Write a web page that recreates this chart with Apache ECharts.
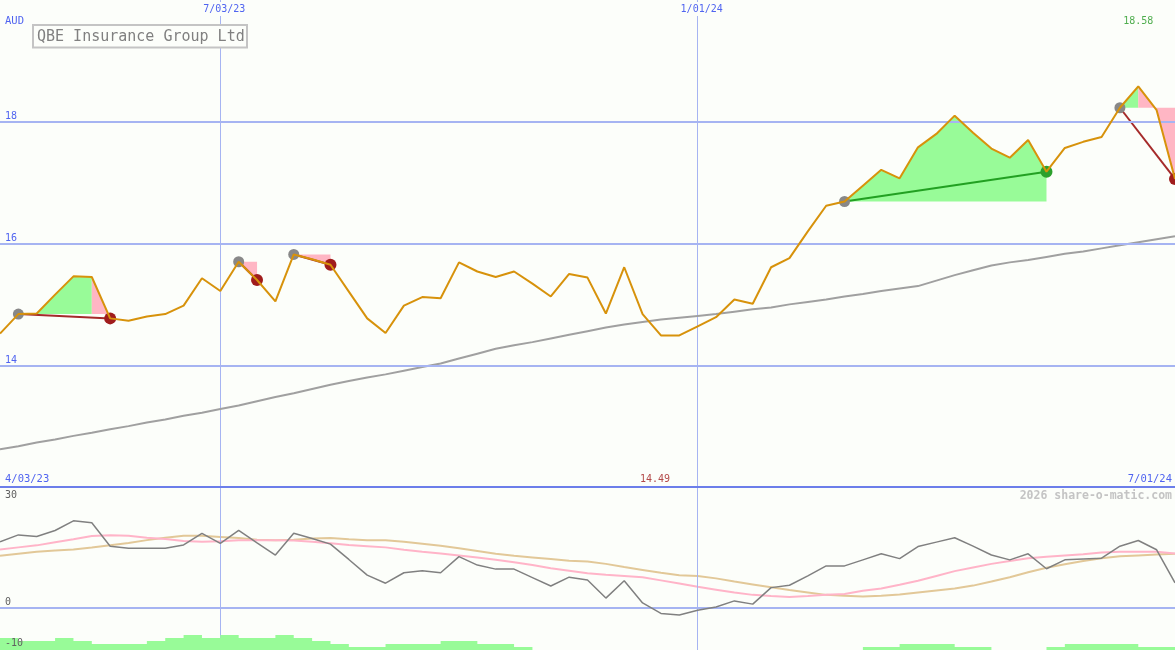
<!DOCTYPE html>
<html><head><meta charset="utf-8">
<script src="https://cdn.jsdelivr.net/npm/echarts@6/dist/echarts.min.js"></script>
<style>html,body{margin:0;padding:0;background:#fcfefa;}#c{width:1175px;height:650px;}</style>
</head><body><div id="c"></div><script>
// ---- data ----
const title = 'QBE Insurance Group Ltd';
const dates = ['4/10/23','4/17/23','4/24/23','5/01/23','5/08/23','5/15/23','5/22/23','5/29/23','6/05/23','6/12/23','6/19/23','6/26/23','7/03/23','7/10/23','7/17/23','7/24/23','7/31/23','8/07/23','8/14/23','8/21/23','8/28/23','9/04/23','9/11/23','9/18/23','9/25/23','10/02/23','10/09/23','10/16/23','10/23/23','10/30/23','11/06/23','11/13/23','11/20/23','11/27/23','12/04/23','12/11/23','12/18/23','12/25/23','1/01/24','1/08/24','1/15/24','1/22/24','1/29/24','2/05/24','2/12/24','2/19/24','2/26/24','3/04/24','3/11/24','3/18/24','3/25/24','4/01/24','4/08/24','4/15/24','4/22/24','4/29/24','5/06/24','5/13/24','5/20/24','5/27/24','6/03/24','6/10/24','6/17/24','6/24/24','7/01/24'];
const gridTicks = [12, 38];
const priceLevels = [14, 16, 18];
const oscLevels = [0];
const startLabel = '4/03/23';
const endLabel = '7/01/24';
const price = [14.52,14.84,14.85,15.16,15.46,15.45,14.77,14.73,14.80,14.84,
  14.98,15.43,15.22,15.70,15.40,15.05,15.82,15.74,15.65,15.21,
  14.77,14.53,14.98,15.12,15.10,15.69,15.54,15.45,15.54,15.34,
  15.13,15.50,15.44,14.85,15.61,14.84,14.49,14.49,14.64,14.79,
  15.08,15.01,15.61,15.76,16.20,16.62,16.69,16.95,17.21,17.07,
  17.58,17.80,18.10,17.82,17.56,17.41,17.70,17.18,17.57,17.67,
  17.75,18.23,18.58,18.19,17.06];
const ma = [12.62,12.67,12.73,12.78,12.84,12.89,12.95,13.00,13.06,13.11,
  13.17,13.22,13.28,13.34,13.41,13.48,13.54,13.61,13.68,13.74,
  13.80,13.85,13.91,13.97,14.03,14.11,14.19,14.27,14.33,14.38,
  14.44,14.50,14.56,14.62,14.67,14.71,14.75,14.78,14.81,14.84,
  14.88,14.92,14.95,15.00,15.04,15.08,15.13,15.17,15.22,15.26,
  15.30,15.39,15.48,15.56,15.64,15.69,15.73,15.78,15.83,15.87,
  15.92,15.97,16.02,16.07,16.12];
const osc = [16.4,18.1,17.7,19.2,21.6,21.1,15.3,14.8,14.8,14.8,
  15.6,18.5,16.0,19.2,16.1,13.1,18.5,17.2,15.8,12.0,
  8.1,6.1,8.7,9.2,8.7,12.7,10.6,9.6,9.6,7.5,
  5.4,7.6,6.9,2.4,6.7,1.2,-1.4,-1.8,-0.6,0.2,
  1.7,0.9,5.0,5.6,7.9,10.4,10.4,11.9,13.4,12.2,
  15.2,16.3,17.4,15.3,13.1,11.9,13.4,9.7,11.9,12.1,
  12.3,15.3,16.7,14.4,6.2];
const oscFast = [14.5,15.0,15.5,16.3,17.0,17.8,18.0,17.9,17.4,17.1,
  16.6,16.4,16.5,16.8,16.8,16.8,16.7,16.4,16.0,15.6,
  15.3,15.0,14.4,13.9,13.5,13.0,12.5,11.9,11.3,10.6,
  9.8,9.2,8.6,8.2,7.9,7.6,6.8,6.0,5.2,4.5,
  3.8,3.2,2.9,2.7,2.9,3.2,3.4,4.2,4.8,5.7,
  6.7,7.9,9.1,10.0,10.9,11.6,12.3,12.7,13.0,13.3,
  13.7,13.9,13.9,13.9,13.5];
const oscSlow = [12.9,13.4,13.9,14.2,14.5,14.95,15.5,16.1,16.8,17.4,
  17.9,17.9,17.6,17.3,16.9,16.8,16.9,17.2,17.3,17.0,
  16.8,16.8,16.4,15.9,15.4,14.8,14.1,13.4,12.9,12.5,
  12.1,11.7,11.5,10.9,10.1,9.4,8.7,8.1,7.9,7.3,
  6.5,5.8,5.1,4.4,3.8,3.2,3.0,2.8,3.0,3.3,
  3.8,4.3,4.8,5.5,6.5,7.6,8.8,9.95,10.8,11.6,
  12.3,12.8,13.0,13.2,13.4];
const bars = [4,3,3,4,3,2,2,2,3,4,
  5,4,5,4,4,5,4,3,2,1,
  1,2,2,2,3,3,2,2,1,0,
  0,0,0,0,0,0,0,0,0,0,
  0,0,0,0,0,0,0,1,1,2,
  2,2,1,1,0,0,0,1,2,2,
  2,2,1,1,1];
const tradeEntry = [1,13,16,46,61];
const tradeExit  = [6,14,18,57,64];
const tradeWin   = [0,0,0,1,0];
const fillStart = [1,5,13,16,46,61,62];
const fillEnd   = [5,6,14,18,57,62,64];
const fillTrade = [0,0,1,2,3,4,4];
const fillKind  = ['g','p','p','p','g','g','p'];

// ---- style ----
const MONO = "'DejaVu Sans Mono', monospace";
const BG = '#fcfefa';
const GRIDC = '#a6b4f2';
const BLUE = '#5064f0';
const GREENF = '#98fb98', PINKF = '#ffb6c4';
const tickSet = new Set(gridTicks);
const isTick = (i) => tickSet.has(i);
const minIdx = price.indexOf(Math.min(...price));
const maxIdx = price.indexOf(Math.max(...price));

const chart = echarts.init(document.getElementById('c'), null, {renderer:'canvas'});
const splitV = {show:true, interval:(i)=>isTick(i), lineStyle:{color:GRIDC, width:1}};
const hLines = (levels) => ({silent:true, symbol:'none', label:{show:false},
  lineStyle:{color:GRIDC, width:2, type:'solid'}, emphasis:{disabled:true},
  data: levels.map(v=>({yAxis:v}))});

const option = {
  backgroundColor: BG,
  animation: false,
  grid: [
    {left:0, right:0, top:-1, height:488},
    {left:0, right:0, top:487, height:161},
    {left:0, right:0, top:635, height:15}
  ],
  xAxis: [
    {gridIndex:0, type:'category', data:dates, boundaryGap:false, position:'top',
     axisLine:{show:false}, axisTick:{show:false}, splitLine:splitV,
     axisLabel:{inside:true, interval:(i)=>isTick(i), margin:2, color:BLUE, fontSize:10, fontFamily:MONO,
       backgroundColor:BG, padding:[2,2,2,10]}},
    {gridIndex:1, type:'category', data:dates, boundaryGap:false, position:'top',
     axisLine:{show:true, onZero:false, lineStyle:{color:'#6c7eea', width:2}}, axisTick:{show:false},
     axisLabel:{show:false}, splitLine:splitV, z:5},
    {gridIndex:2, type:'category', data:dates, boundaryGap:false,
     axisLine:{show:false, onZero:false}, axisTick:{show:false}, axisLabel:{show:false}, splitLine:splitV}
  ],
  yAxis: [
    {gridIndex:0, type:'value', min:12, max:20, interval:2,
     axisLine:{show:false}, axisTick:{show:false}, splitLine:{show:false},
     axisLabel:{inside:true, margin:5, verticalAlign:'bottom', color:BLUE, fontSize:10, fontFamily:MONO,
       showMinLabel:false, showMaxLabel:false}},
    {gridIndex:1, type:'value', position:'left', min:-10, max:30, interval:10, z:10,
     axisLine:{show:false}, axisTick:{show:false}, splitLine:{show:false},
     axisLabel:{inside:true, margin:5, verticalAlign:'bottom', color:'#606060', fontSize:10, fontFamily:MONO,
       showMaxLabel:false, formatter:(v)=> (v===0 || v===-10) ? String(v) : ''}},
    {gridIndex:1, type:'value', position:'left', offset:0, min:-10, max:30, interval:10, z:10,
     axisLine:{show:false}, axisTick:{show:false}, splitLine:{show:false},
     axisLabel:{inside:true, margin:5, verticalAlign:'top', padding:[3,0,0,0], color:'#606060', fontSize:10, fontFamily:MONO,
       showMaxLabel:true, formatter:(v)=> v===30 ? '30' : ''}},
    {gridIndex:2, type:'value', min:0, max:5, show:false}
  ],
  graphic: [
    {type:'rect', shape:{x:33, y:25, width:214, height:22.5}, style:{fill:BG, stroke:'#c4c4c4', lineWidth:2}, z:100},
    {type:'text', x:37, y:37, z:101, style:{text:title, font:'15px '+MONO, fill:'#808080', verticalAlign:'middle'}},
    {type:'text', x:5, y:21, z:101, style:{text:'AUD', font:'10.5px '+MONO, fill:BLUE, verticalAlign:'middle'}},
    {type:'text', x:5, y:479, z:101, style:{text:startLabel, font:'10.5px '+MONO, fill:BLUE, verticalAlign:'middle'}},
    {type:'text', x:1172, y:479, z:101, style:{text:endLabel, font:'10.5px '+MONO, fill:BLUE, align:'right', verticalAlign:'middle'}},
    {type:'text', x:1172, y:496, z:101, style:{text:'2026 share-o-matic.com', font:'bold 11.5px '+MONO, fill:'#c4c4c4', align:'right', verticalAlign:'middle'}}
  ],
  series: [
    {type:'line', xAxisIndex:0, yAxisIndex:0, z:1, data:[], silent:true, markLine:hLines(priceLevels)},
    {type:'custom', xAxisIndex:0, yAxisIndex:0, z:2, silent:true,
     data: fillStart.map((s,k)=>[s, price[s], k]),
     renderItem:(params, api)=>{
       const k = params.dataIndex;
       const s = fillStart[k], e = fillEnd[k];
       const lvl = price[tradeEntry[fillTrade[k]]];
       const pts = [api.coord([s, lvl])];
       for (let j=s; j<=e; j++) pts.push(api.coord([j, price[j]]));
       pts.push(api.coord([e, lvl]));
       return {type:'polygon', shape:{points:pts}, style:{fill: fillKind[k]==='g' ? GREENF : PINKF}};
     }},
    {type:'line', xAxisIndex:0, yAxisIndex:0, z:3, data:ma, symbol:'none', silent:true,
     lineStyle:{color:'#a0a0a0', width:2}},
    ...tradeEntry.map((en,k)=>({type:'line', xAxisIndex:0, yAxisIndex:0, z:4, symbol:'none', silent:true,
      data:[[en, price[en]], [tradeExit[k], price[tradeExit[k]]]],
      lineStyle:{color: tradeWin[k] ? '#22a022' : '#a52a2a', width:2}})),
    {type:'scatter', xAxisIndex:0, yAxisIndex:0, z:5, symbolSize:11, silent:true,
     data: tradeEntry.map(i=>[i, price[i]]), itemStyle:{color:'#888888', opacity:1}},
    {type:'scatter', xAxisIndex:0, yAxisIndex:0, z:5, symbolSize:12, silent:true,
     data: tradeExit.map((i,k)=>({value:[i, price[i]], itemStyle:{color: tradeWin[k] ? '#2ca02c' : '#a01c1c', opacity:1}}))},
    {type:'line', xAxisIndex:0, yAxisIndex:0, z:6, data:price, symbol:'none', silent:true,
     lineStyle:{color:'#d7920b', width:2}},
    {type:'scatter', xAxisIndex:0, yAxisIndex:0, z:7, symbolSize:0, silent:true,
     label:{show:true, position:'inside', fontSize:10, fontFamily:MONO, formatter:(p)=>price[p.value[0]].toFixed(2)},
     data:[
       {value:[minIdx, 12.13], label:{color:'#a01c1c', offset:[-6,0]}},
       {value:[maxIdx, 19.65], label:{color:'#229922'}}
     ]},
    {type:'line', xAxisIndex:1, yAxisIndex:1, z:1, data:[], silent:true, markLine:hLines(oscLevels)},
    {type:'line', xAxisIndex:1, yAxisIndex:1, z:3, data:oscSlow, symbol:'none', silent:true,
     lineStyle:{color:'#e2c898', width:2}},
    {type:'line', xAxisIndex:1, yAxisIndex:1, z:4, data:oscFast, symbol:'none', silent:true,
     lineStyle:{color:'#ffb4c8', width:2}},
    {type:'line', xAxisIndex:1, yAxisIndex:1, z:5, data:osc, symbol:'none', silent:true,
     lineStyle:{color:'#808080', width:1.5}},
    {type:'line', xAxisIndex:2, yAxisIndex:3, z:6, data:bars, step:'end', symbol:'none', silent:true,
     lineStyle:{width:0, opacity:0}, areaStyle:{color:GREENF, opacity:1}}
  ]
};
chart.setOption(option);
</script></body></html>
